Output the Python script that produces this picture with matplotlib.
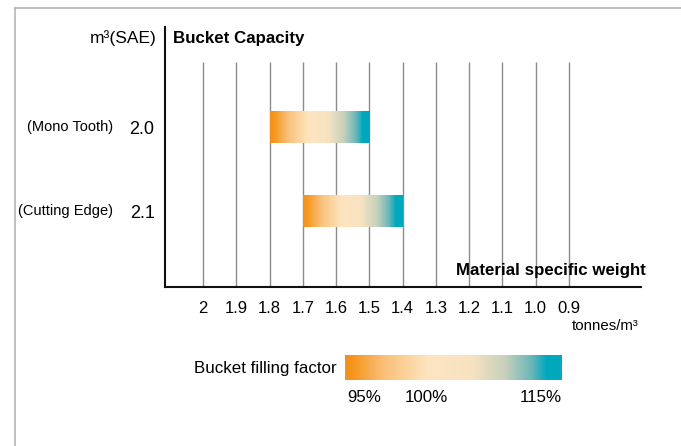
import numpy as np
import matplotlib
matplotlib.use("Agg")
import matplotlib.pyplot as plt
from matplotlib.colors import LinearSegmentedColormap
from matplotlib.lines import Line2D
from matplotlib.transforms import blended_transform_factory

plt.rcParams["font.family"] = ["Liberation Sans", "DejaVu Sans"]

# Material specific weight axis (tonnes/m3), descending left to right
densities = [2.0, 1.9, 1.8, 1.7, 1.6, 1.5, 1.4, 1.3, 1.2, 1.1, 1.0, 0.9]
density_labels = ["2", "1.9", "1.8", "1.7", "1.6", "1.5", "1.4", "1.3", "1.2", "1.1", "1.0", "0.9"]

# Bucket variants and capacities (m3 SAE)
bucket_types = ["(Mono Tooth)", "(Cutting Edge)"]
capacities = ["2.0", "2.1"]

# Recommended material weight range per bucket
range_heavy = [1.8, 1.7]
range_light = [1.5, 1.4]

# Bucket filling factor legend
fill_labels = ["95%", "100%", "115%"]
fill_label_pos = [0.088, 0.375, 0.901]

W, H = 681, 446
fig = plt.figure(figsize=(W / 100, H / 100), dpi=100)


def fx(px):
    return px / W


def fy(py):
    return 1 - py / H


cmap = LinearSegmentedColormap.from_list(
    "fill",
    [(0.0, "#F5901A"), (0.04, "#F6971F"), (0.18, "#FAC07A"), (0.38, "#FDE5BE"),
     (0.58, "#F8E3C1"), (0.74, "#C6D1BC"), (0.86, "#6DB7B9"), (0.93, "#00A8BE"),
     (1.0, "#00A8BE")])
gradient = np.linspace(0, 1, 256).reshape(1, -1)

# outer frame lines
fig.add_artist(Line2D([fx(14.5), fx(14.5)], [fy(8), 0], color="#B5B5B5", lw=1.2))
fig.add_artist(Line2D([fx(14.5), 1], [fy(8), fy(8)], color="#B5B5B5", lw=1.2))

# main chart axes
ax = fig.add_axes([fx(165), fy(287), fx(641) - fx(165), (287 - 27) / H])
px_per_unit = 332.7
xlim = (2.0 + (203 - 165) / px_per_unit, 2.0 - (641 - 203) / px_per_unit)
row_px = 84
ylim = ((287 - 127) / row_px, (27 - 127) / row_px)
grid_top = (62 - 127) / row_px

ax.vlines(densities, grid_top, ylim[0], color="#8C8C8C", lw=1.0, zorder=1)

bar_h = 32 / row_px
for i in range(len(bucket_types)):
    ax.imshow(gradient, cmap=cmap, aspect="auto", interpolation="bicubic",
              extent=[range_heavy[i], range_light[i], i + bar_h / 2, i - bar_h / 2],
              zorder=3)
ax.set_xlim(*xlim)
ax.set_ylim(*ylim)

for s in ["top", "right"]:
    ax.spines[s].set_visible(False)
for s in ["left", "bottom"]:
    ax.spines[s].set_linewidth(1.5)
    ax.spines[s].set_color("#111111")

ax.set_xticks(densities, density_labels)
ax.tick_params(axis="x", length=0, pad=10, labelsize=12)
ax.set_yticks(range(len(capacities)), capacities)
ax.tick_params(axis="y", length=0, pad=7.5, labelsize=13)
ax.set_facecolor("none")

name_tf = blended_transform_factory(fig.transFigure, ax.transData)
for i, name in enumerate(bucket_types):
    ax.text(fx(113), i, name, transform=name_tf, ha="right", va="center",
            fontsize=10.5)

fig.text(fx(157), fy(38), "m³(SAE)", ha="right", va="center", fontsize=12.5)
fig.text(fx(173), fy(38), "Bucket Capacity", ha="left", va="center",
         fontsize=12.2, fontweight="bold")
fig.text(fx(646), fy(271), "Material specific weight", ha="right", va="center",
         fontsize=12.2, fontweight="bold")
fig.text(fx(639), fy(326), "tonnes/m³", ha="right", va="center", fontsize=10.8)

# filling factor legend
lax = fig.add_axes([fx(345), fy(380), fx(562) - fx(345), (380 - 355) / H])
lax.imshow(gradient, cmap=cmap, aspect="auto", interpolation="bicubic",
           extent=[0, 1, 0, 1])
lax.set_xlim(0, 1)
lax.set_ylim(0, 1)
lax.axis("off")
for pos, lab in zip(fill_label_pos, fill_labels):
    lax.text(pos, -0.7, lab, transform=lax.transAxes, ha="center", va="center",
             fontsize=12.2)
fig.text(fx(337), fy(368), "Bucket filling factor", ha="right", va="center",
         fontsize=12.2)

fig.savefig("out.png", dpi=100)
